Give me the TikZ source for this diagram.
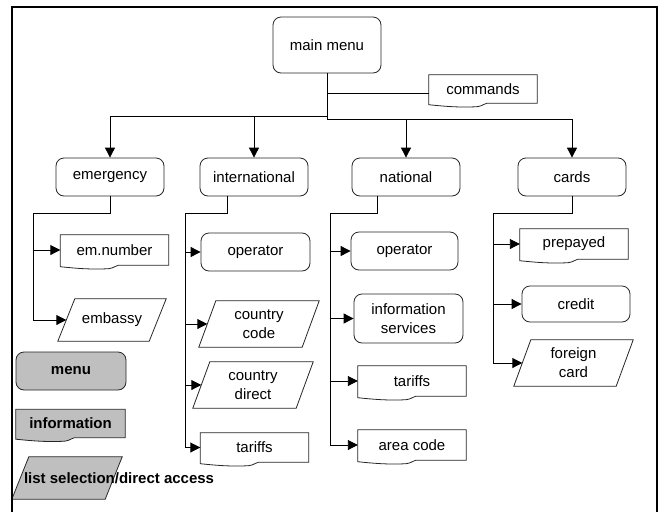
\documentclass[tikz,border=0pt]{standalone}
\usepackage{fontspec}
\setmainfont{Liberation Sans}
\usetikzlibrary{arrows.meta,backgrounds}

% outline of a "document" box around a named node
\newcommand{\docframe}[2][white]{%
  \begin{pgfonlayer}{background}
  \draw[outl,fill=#1] (#2.north west) -- (#2.north east) -- (#2.south east)
    -- ([xshift=4pt]#2.south) .. controls ([xshift=1pt]#2.south) and ([xshift=0pt,yshift=-3pt]#2.south) .. ([xshift=-6pt,yshift=-3.5pt]#2.south)
    .. controls ([xshift=-24pt,yshift=-4.5pt]#2.south) and ([xshift=-40pt,yshift=-3pt]#2.south) .. ([yshift=-1.5pt]#2.south west) -- cycle;
  \end{pgfonlayer}}
% outline of a parallelogram around a named node
\newcommand{\paraframe}[2][white]{%
  \begin{pgfonlayer}{background}
  \draw[outl,fill=#1] ([xshift=17pt]#2.north west) -- (#2.north east)
    -- ([xshift=-17pt]#2.south east) -- (#2.south west) -- cycle;
  \end{pgfonlayer}}

\begin{document}
\begin{tikzpicture}[x=1pt,y=-1pt,
  outl/.style={draw=black!85, line width=0.8pt},
  txt/.style={font=\fontsize{15}{19}\selectfont, align=center, inner sep=0pt},
  menubox/.style={txt, rectangle, rounded corners=8pt, outl, fill=white, minimum width=108pt, minimum height=38pt},
  docbox/.style={txt, rectangle, minimum width=108pt, minimum height=30pt},
  parabox/.style={txt, rectangle, minimum width=120pt, minimum height=46pt},
  legend/.style={font=\bfseries\fontsize{15}{19}\selectfont},
  link/.style={line width=0.9pt},
  arr/.style={link, -{Triangle[length=10pt,width=10pt]}}]
\useasboundingbox (0,0) rectangle (662,512);
\draw[line width=2pt] (12,512) -- (12,7) -- (657,7) -- (657,512);
%%%%%%%%%%%%%%%%%%%%%%%%%%%%%%%%%%%%%%%%%%%%%%%%%%
% top level
%%%%%%%%%%%%%%%%%%%%%%%%%%%%%%%%%%%%%%%%%%%%%%%%%%
\node[menubox, minimum height=56pt] (main) at (327,45) {main menu};
\node[docbox, minimum height=28pt] (cmds) at (483,89) {commands};
\docframe{cmds}

\node[menubox] (emerg) at (110,177) {emergency};
\node[menubox] (intl) at (254,177) {international};
\node[menubox] (natl) at (406,177) {national};
\node[menubox] (cards) at (572,177) {cards};

\coordinate (cmdj) at (327,93);
\coordinate (busL) at (327,116);
\coordinate (busR) at (327,119);
\draw[link] (main.south) -- (busR);
\draw[link] (cmdj) -- (cmdj -| cmds.west);
\draw[arr] (busL) -| (emerg.north);
\draw[arr] (busL) -| (intl.north);
\draw[arr] (busR) -| (natl.north);
\draw[arr] (busR) -| (cards.north);
%%%%%%%%%%%%%%%%%%%%%%%%%%%%%%%%%%%%%%%%%%%%%%%%%%
% emergency
%%%%%%%%%%%%%%%%%%%%%%%%%%%%%%%%%%%%%%%%%%%%%%%%%%
\node[docbox] (emnum) at (114.5,250) {em.number};
\docframe{emnum}
\node[parabox, minimum width=108pt, minimum height=42pt] (embassy) at (112,320) {embassy};
\paraframe{embassy}

\coordinate (eTop) at (33,213);
\draw[link] (emerg.south) |- (eTop);
\draw[arr] (eTop) |- ([xshift=8.5pt]embassy.west);
\draw[arr] (eTop |- emnum.west) -- (emnum.west);
%%%%%%%%%%%%%%%%%%%%%%%%%%%%%%%%%%%%%%%%%%%%%%%%%%
% international
%%%%%%%%%%%%%%%%%%%%%%%%%%%%%%%%%%%%%%%%%%%%%%%%%%
\node[menubox, minimum width=109pt] (intop) at (255.5,252) {operator};
\node[parabox] (ccode) at (259,324) {country\\code};
\paraframe{ccode}
\node[parabox] (cdirect) at (253,385) {country\\direct};
\paraframe{cdirect}
\node[docbox, minimum height=29pt] (inttar) at (254.5,447.5) {tariffs};
\docframe{inttar}

\coordinate (iTop) at (185,213);
\draw[link] ([xshift=-27pt]intl.south) |- (iTop);
\draw[arr] (iTop) |- (inttar.west);
\draw[arr] (iTop |- intop.west) -- (intop.west);
\draw[arr] (iTop |- ccode.west) -- ([xshift=8.5pt]ccode.west);
\draw[arr] (iTop |- cdirect.west) -- ([xshift=8.5pt]cdirect.west);
%%%%%%%%%%%%%%%%%%%%%%%%%%%%%%%%%%%%%%%%%%%%%%%%%%
% national
%%%%%%%%%%%%%%%%%%%%%%%%%%%%%%%%%%%%%%%%%%%%%%%%%%
\node[menubox, minimum width=107pt] (natop) at (404.5,251) {operator};
\node[menubox, minimum width=109pt, minimum height=49pt] (infserv) at (408.5,318.5) {information\\services};
\node[docbox] (nattar) at (412,381) {tariffs};
\docframe{nattar}
\node[docbox] (areacode) at (412,445) {area code};
\docframe{areacode}

\coordinate (nTop) at (330,213);
\draw[link] ([xshift=-29pt]natl.south) |- (nTop);
\draw[arr] (nTop) |- (areacode.west);
\draw[arr] (nTop |- natop.west) -- (natop.west);
\draw[arr] (nTop |- infserv.west) -- (infserv.west);
\draw[arr] (nTop |- nattar.west) -- (nattar.west);
%%%%%%%%%%%%%%%%%%%%%%%%%%%%%%%%%%%%%%%%%%%%%%%%%%
% cards
%%%%%%%%%%%%%%%%%%%%%%%%%%%%%%%%%%%%%%%%%%%%%%%%%%
\node[docbox] (prepay) at (574,244) {prepayed};
\docframe{prepay}
\node[menubox, minimum height=36pt] (credit) at (576,304) {credit};
\node[parabox, minimum width=119pt] (foreign) at (573.5,363) {foreign\\card};
\paraframe{foreign}

\coordinate (cTop) at (493,213);
\draw[link] (cards.south) |- (cTop);
\draw[arr] (cTop) |- ([xshift=8.5pt]foreign.west);
\draw[arr] (cTop |- prepay.west) -- (prepay.west);
\draw[arr] (cTop |- credit.west) -- (credit.west);
%%%%%%%%%%%%%%%%%%%%%%%%%%%%%%%%%%%%%%%%%%%%%%%%%%
% legend
%%%%%%%%%%%%%%%%%%%%%%%%%%%%%%%%%%%%%%%%%%%%%%%%%%
\node[menubox, legend, fill=gray!50, minimum width=110pt] (lmenu) at (71,371) {menu};
\node[docbox, legend, minimum width=109pt, minimum height=28pt] (linfo) at (70.5,423.5) {information};
\docframe[gray!50]{linfo}
\node[parabox, minimum width=110pt, minimum height=42pt] (lsel) at (67,478) {};
\paraframe[gray!50]{lsel}
\node[legend, anchor=west, inner sep=0pt] (lseltxt) at ([xshift=12pt]lsel.west) {list selection/direct access};
\end{tikzpicture}
\end{document}
